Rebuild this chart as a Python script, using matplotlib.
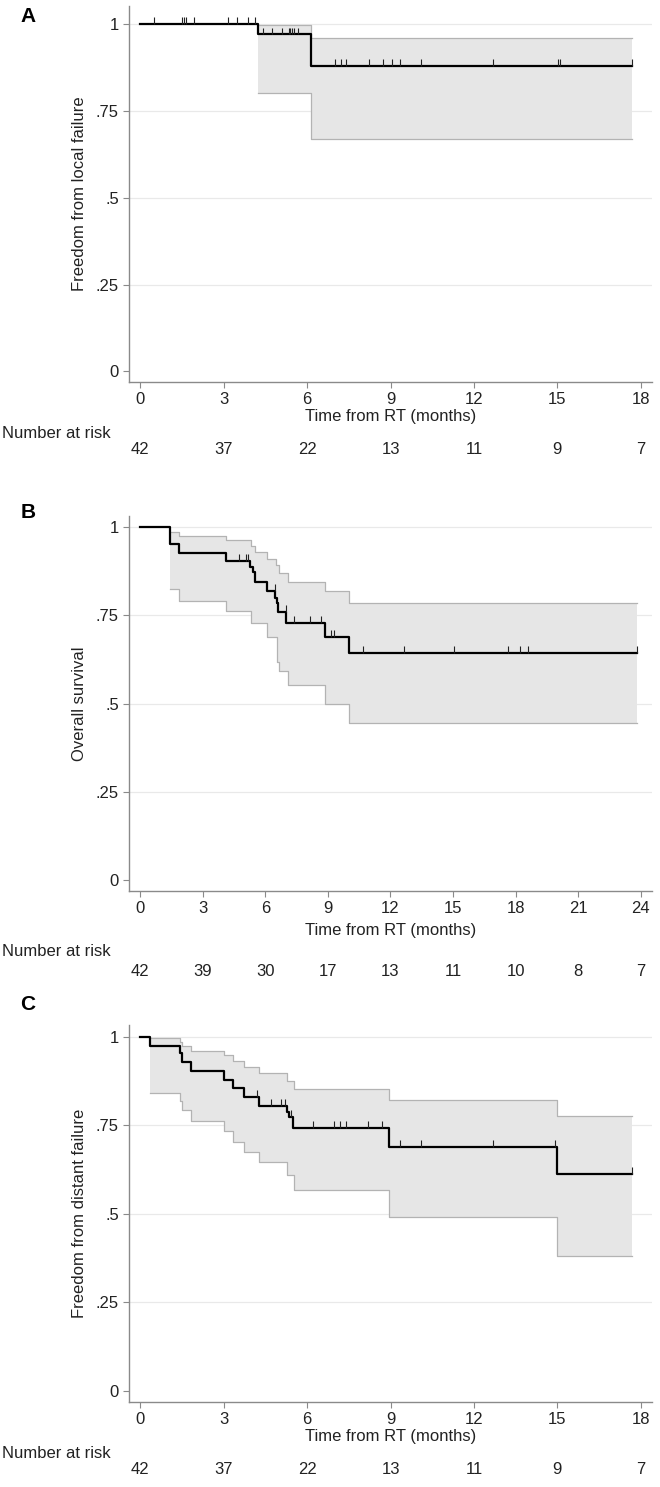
import numpy as np
import matplotlib
matplotlib.use('Agg')
import matplotlib.pyplot as plt

plt.rcParams['font.family'] = ['Liberation Sans', 'DejaVu Sans']

# panel A: freedom from local failure
a_time = [0, 4.22, 6.13]
a_surv = [1, 0.971, 0.881]
a_end = 17.70
a_ci_time = [4.22, 6.13]
a_ci_lo = [0.803, 0.671]
a_ci_hi = [0.998, 0.960]
a_cens = [0.48, 1.51, 1.57, 1.63, 1.94, 3.15, 3.49, 3.86, 4.13,
          4.41, 4.73, 5.10, 5.34, 5.40, 5.46, 5.52, 5.67,
          7.02, 7.22, 7.41, 8.23, 8.72, 9.06, 9.35, 10.10, 12.69, 15.04, 15.10, 17.70]
a_risk = [42, 37, 22, 13, 11, 9, 7]

# panel B: overall survival
b_time = [0, 1.42, 1.87, 4.11, 5.28, 5.39, 5.49, 6.09, 6.49, 6.54, 6.61, 7.01, 8.85, 10.03]
b_surv = [1, 0.953, 0.928, 0.904, 0.887, 0.873, 0.844, 0.819, 0.800, 0.785, 0.761, 0.729, 0.689, 0.643]
b_end = 23.82
b_ci_time = [1.42, 1.87, 4.11, 5.30, 5.49, 6.09, 6.51, 6.55, 6.64, 7.08, 8.85, 10.03]
b_ci_lo = [0.824, 0.792, 0.764, 0.728, 0.728, 0.689, 0.689, 0.618, 0.592, 0.552, 0.500, 0.445]
b_ci_hi = [0.988, 0.976, 0.964, 0.948, 0.931, 0.910, 0.892, 0.892, 0.871, 0.846, 0.819, 0.785]
b_cens = [4.73, 5.07, 5.18, 6.47, 6.99, 7.40, 8.16, 8.68, 9.15, 9.28,
          10.69, 12.67, 15.03, 17.66, 18.23, 18.58, 23.82]
b_risk = [42, 39, 30, 17, 13, 11, 10, 8, 7]

# panel C: freedom from distant failure
c_time = [0, 0.33, 1.43, 1.49, 1.82, 3.01, 3.34, 3.74, 4.25, 5.26, 5.34, 5.50, 8.95, 15.0]
c_surv = [1, 0.975, 0.955, 0.929, 0.903, 0.879, 0.854, 0.829, 0.804, 0.788, 0.773, 0.741, 0.688, 0.612]
c_end = 17.68
c_ci_time = [0.33, 1.43, 1.49, 1.82, 3.01, 3.34, 3.74, 4.25, 5.28, 5.52, 8.95, 15.0]
c_ci_lo = [0.842, 0.818, 0.794, 0.763, 0.733, 0.703, 0.674, 0.645, 0.610, 0.568, 0.491, 0.380]
c_ci_hi = [0.997, 0.985, 0.975, 0.961, 0.948, 0.931, 0.914, 0.898, 0.876, 0.851, 0.820, 0.777]
c_cens = [4.20, 4.71, 5.07, 5.19, 5.41, 6.22, 6.98, 7.19, 7.38, 8.20, 8.68,
          9.33, 10.10, 12.67, 14.91, 17.68]
c_risk = [42, 37, 22, 13, 11, 9, 7]

ylabels = ['Freedom from local failure', 'Overall survival', 'Freedom from distant failure']
letters = ['A', 'B', 'C']

W, H = 660, 1487
fig = plt.figure(figsize=(W / 100, H / 100), dpi=100)

# (top px, bottom px, xmax tick, xlim, ylim, offsets for tick/xlabel/risk rows)
panels = [
    (6, 382, 18, (-0.40, 18.42), (-0.031, 1.053), (34, 51, 67)),
    (516, 891, 24, (-0.52, 24.56), (-0.031, 1.032), (39, 60, 81)),
    (1025, 1402, 18, (-0.40, 18.42), (-0.031, 1.033), (34, 51, 67)),
]
data = [
    (a_time, a_surv, a_end, a_ci_time, a_ci_lo, a_ci_hi, a_cens, a_risk),
    (b_time, b_surv, b_end, b_ci_time, b_ci_lo, b_ci_hi, b_cens, b_risk),
    (c_time, c_surv, c_end, c_ci_time, c_ci_lo, c_ci_hi, c_cens, c_risk),
]

left, right = 129.3, 652.3
spine_col = '#8a8a8a'
txt_col = '#222222'

for i, (pan, d) in enumerate(zip(panels, data)):
    top, bot, xmax, xlim, ylim, offs = pan
    t, s, end, ct, lo, hi, cens, risk = d
    ax = fig.add_axes([left / W, 1 - bot / H, (right - left) / W, (bot - top) / H])
    ax.set_xlim(*xlim)
    ax.set_ylim(*ylim)
    for sp in ['top', 'right']:
        ax.spines[sp].set_visible(False)
    for sp in ['left', 'bottom']:
        ax.spines[sp].set_color(spine_col)
        ax.spines[sp].set_linewidth(1.0)

    for g in [0.25, 0.5, 0.75, 1.0]:
        ax.axhline(g, color='#e9e9e9', lw=0.9, zorder=0)

    # confidence band
    cx = list(ct) + [end]
    clo = list(lo) + [lo[-1]]
    chi = list(hi) + [hi[-1]]
    ax.fill_between(cx, clo, chi, step='post', color='#e6e6e6', lw=0, zorder=1)
    ax.step(cx, clo, where='post', color='#b3b3b3', lw=0.9, zorder=2)
    ax.step(cx, chi, where='post', color='#b3b3b3', lw=0.9, zorder=2)

    # KM curve
    xs = list(t) + [end]
    ys = list(s) + [s[-1]]
    ax.step(xs, ys, where='post', color='black', lw=1.6, zorder=3)

    # censor marks
    tt = np.array(t)
    ss = np.array(s)
    idx = np.searchsorted(tt, cens, side='right') - 1
    cy = ss[idx]
    ax.vlines(cens, cy, cy + 0.02, color='#222222', lw=0.8, zorder=4)

    xticks = np.arange(0, xmax + 1, 3)
    ax.set_xticks(xticks)
    ax.set_xticklabels([str(v) for v in xticks])
    ax.set_yticks([0, 0.25, 0.5, 0.75, 1])
    ax.set_yticklabels(['0', '.25', '.5', '.75', '1'])
    ax.tick_params(direction='out', length=4.5, width=0.8, color=spine_col,
                   labelsize=12, labelcolor=txt_col, pad=3)
    ax.set_ylabel(ylabels[i], fontsize=12, color=txt_col, labelpad=6)

    xl_off, nar_off, num_off = offs
    ax.annotate('Time from RT (months)', xy=(0.5, 0), xycoords='axes fraction',
                xytext=(0, -xl_off), textcoords='offset pixels',
                ha='center', va='center', fontsize=12, color=txt_col)
    fig.text(2 / W, 1 - (bot + nar_off) / H, 'Number at risk', ha='left', va='center',
             fontsize=12, color=txt_col)
    for x, r in zip(xticks, risk):
        ax.annotate(str(r), xy=(x, 0), xycoords=('data', 'axes fraction'),
                    xytext=(0, -num_off), textcoords='offset pixels',
                    ha='center', va='center', fontsize=12, color=txt_col)

    letter_y = [17, 512, 1005][i]
    fig.text(28 / W, 1 - letter_y / H, letters[i], ha='center', va='center',
             fontsize=15, fontweight='bold', color='black')

fig.savefig('out.png', dpi=100)
